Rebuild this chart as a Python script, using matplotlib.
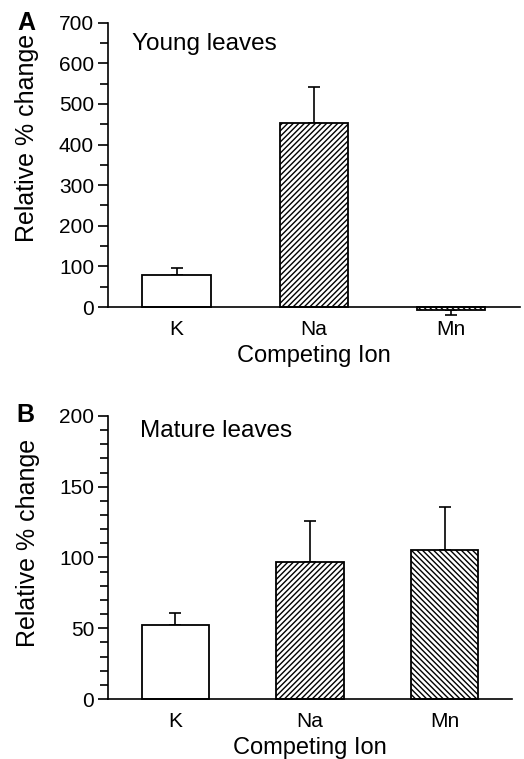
import numpy as np
import matplotlib.pyplot as plt

plt.rcParams['font.family'] = ['Liberation Sans', 'DejaVu Sans']
plt.rcParams['hatch.linewidth'] = 1.0

# data
ions = ['K', 'Na', 'Mn']
young_vals = [80, 453, -8]
young_err = [15, 89, 12]
mature_vals = [52, 97, 105]
mature_err = [9, 29, 31]
hatches = ['', '//////', '\\\\\\\\\\\\']

fig = plt.figure(figsize=(5.24, 7.59), dpi=100)
axA = fig.add_axes([0.206, 0.5955, 0.786, 0.3745])
axB = fig.add_axes([0.206, 0.079, 0.771, 0.373])

def panel(ax, vals, errs, ymax, major, minor, title, tx, ty, ly):
    ax.spines['bottom'].set_position(('data', 0))
    x = np.arange(len(vals))
    for i, v in enumerate(vals):
        ax.bar(x[i], v, width=0.5, color='white', edgecolor='black',
               linewidth=1.3, hatch=hatches[i], zorder=2, clip_on=False)
        if v >= 0:
            yerr = [[0], [errs[i]]]
        else:
            yerr = [[errs[i]], [0]]
        eb = ax.errorbar(x[i], v, yerr=yerr, fmt='none', ecolor='black',
                         elinewidth=1.2, capsize=4, capthick=1.2, zorder=1)
        for art in eb.lines[1] + eb.lines[2]:
            art.set_clip_on(False)
    ax.set_xlim(-0.5, 2.5)
    ax.set_ylim(0, ymax)
    ax.set_yticks(np.arange(0, ymax + 1, major))
    ax.set_yticks(np.arange(0, ymax + 1, minor), minor=True)
    ax.set_xticks(x)
    ax.set_xticklabels(ions, fontsize=15)
    ax.tick_params(axis='x', length=0, pad=9)
    ax.tick_params(axis='y', which='major', length=7, width=1.2,
                   labelsize=15, pad=3)
    ax.tick_params(axis='y', which='minor', length=5.5, width=1.2)
    ax.spines['top'].set_visible(False)
    ax.spines['right'].set_visible(False)
    ax.spines['left'].set_linewidth(1.2)
    ax.spines['bottom'].set_linewidth(1.2)
    ax.set_ylabel('Relative % change', fontsize=18, va='center')
    ax.yaxis.set_label_coords(-0.197, ly)
    ax.set_xlabel('Competing Ion', fontsize=17, labelpad=5)
    ax.text(tx, ty, title, transform=ax.transAxes, fontsize=17.5,
            va='top', ha='left')

panel(axA, young_vals, young_err, 700, 100, 50, 'Young leaves', 0.058, 0.965, 0.595)
panel(axB, mature_vals, mature_err, 200, 50, 10, 'Mature leaves', 0.079, 0.985, 0.551)

fig.text(0.034, 1 - 23 / 759, 'A', fontsize=18, fontweight='bold', va='center')
fig.text(0.032, 1 - 415 / 759, 'B', fontsize=18, fontweight='bold', va='center')

fig.savefig('out.png', dpi=100)
